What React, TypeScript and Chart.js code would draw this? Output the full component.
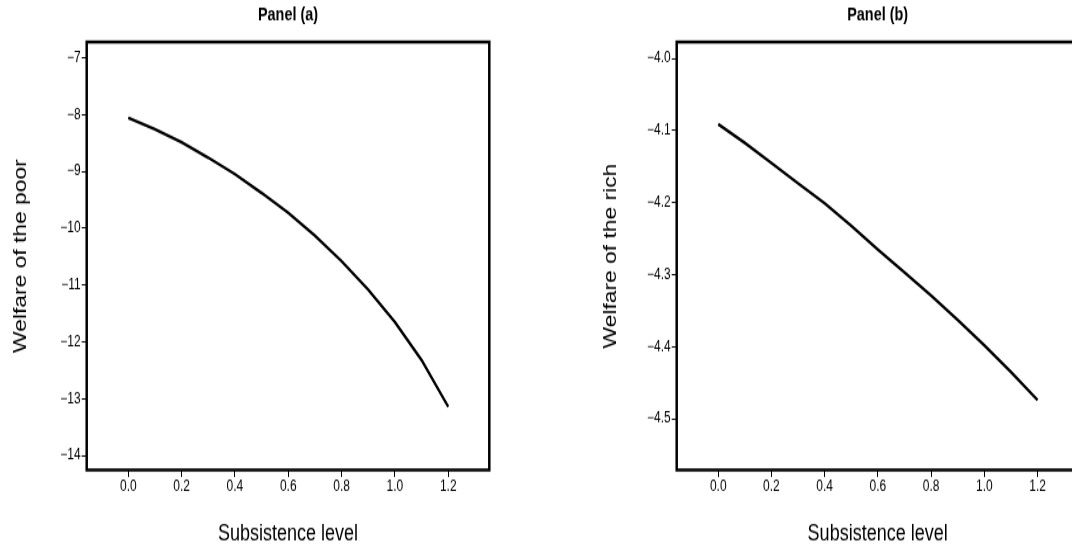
import React, { useEffect, useRef } from "react";
import { Chart, registerables } from "chart.js";

Chart.register(...registerables);

// ---- data ----
const subsistence = [0, 0.1, 0.2, 0.3, 0.4, 0.5, 0.6, 0.7, 0.8, 0.9, 1.0, 1.1, 1.2];
const poorWelfare = [-8.06, -8.26, -8.49, -8.76, -9.05, -9.38, -9.73, -10.13, -10.58, -11.08, -11.65, -12.32, -13.14];
const richWelfare = [-4.091, -4.117, -4.145, -4.173, -4.201, -4.232, -4.265, -4.297, -4.329, -4.363, -4.398, -4.435, -4.474];
const xTicks = [0, 0.2, 0.4, 0.6, 0.8, 1.0, 1.2];
const poorTicks = [-7, -8, -9, -10, -11, -12, -13, -14];
const richTicks = [-4.0, -4.1, -4.2, -4.3, -4.4, -4.5];

const FONT = "'Liberation Sans', Arial, Helvetica, sans-serif";
// the reference figure is stretched vertically; draw at a lower height and stretch with CSS
const DISPLAY_H = 548;
const DRAW_H = 432;

const fmt = (v: number, d: number) =>
  v < 0 ? "\u2212" + Math.abs(v).toFixed(d) : v.toFixed(d);

const boxPlugin = {
  id: "plotBox",
  afterDraw(chart: any) {
    const { ctx, chartArea } = chart;
    ctx.save();
    ctx.strokeStyle = "#000";
    ctx.lineWidth = 2.5;
    ctx.strokeRect(chartArea.left, chartArea.top, chartArea.right - chartArea.left, chartArea.bottom - chartArea.top);
    ctx.restore();
  },
};

type PanelProps = {
  title: string;
  yTitle: string;
  values: number[];
  yTicks: number[];
  yDecimals: number;
  yMin: number;
  yMax: number;
  left: number;
  width: number;
  padRight: number;
  yWidth: number;
  yTitlePad: number;
};

function Panel(p: PanelProps) {
  const ref = useRef<HTMLCanvasElement>(null);
  useEffect(() => {
    if (!ref.current) return;
    const chart = new Chart(ref.current, {
      type: "line",
      data: {
        datasets: [
          {
            data: subsistence.map((x, i) => ({ x, y: p.values[i] })),
            borderColor: "#000",
            borderWidth: 2.4,
            pointRadius: 0,
            tension: 0,
            fill: false,
          },
        ],
      },
      options: {
        animation: false,
        responsive: false,
        maintainAspectRatio: false,
        devicePixelRatio: 1,
        layout: { padding: { left: 0, right: p.padRight, top: 0, bottom: 0 } },
        plugins: {
          legend: { display: false },
          tooltip: { enabled: false },
          title: {
            display: true,
            text: p.title,
            fullSize: false,
            color: "#000",
            font: { family: FONT, size: 14.4, weight: "bold" },
            padding: { top: 3.2, bottom: 12.6 },
          },
        },
        scales: {
          x: {
            type: "linear",
            min: -0.156,
            max: 1.354,
            afterBuildTicks: (s: any) => {
              s.ticks = xTicks.map((v) => ({ value: v }));
            },
            afterFit: (s: any) => {
              s.height = 61.5;
            },
            ticks: {
              color: "#000",
              font: { family: FONT, size: 12 },
              padding: 0.5,
              maxRotation: 0,
              autoSkip: false,
              callback: (v: any) => fmt(Number(v), 1),
            },
            grid: { display: true, drawOnChartArea: false, drawTicks: true, tickLength: 5.5, color: "#000", lineWidth: 1 },
            border: { display: false },
            title: {
              display: true,
              text: "Subsistence level",
              color: "#000",
              font: { family: FONT, size: 18 },
              padding: { top: 0, bottom: 0.5 },
            },
          },
          y: {
            type: "linear",
            min: p.yMin,
            max: p.yMax,
            afterBuildTicks: (s: any) => {
              s.ticks = p.yTicks.map((v) => ({ value: v }));
            },
            afterFit: (s: any) => {
              s.width = p.yWidth;
            },
            ticks: {
              color: "#000",
              font: { family: FONT, size: 12 },
              padding: 1,
              autoSkip: false,
              callback: (v: any) => fmt(Number(v), p.yDecimals),
            },
            grid: { display: true, drawOnChartArea: false, drawTicks: true, tickLength: 5, color: "#000", lineWidth: 1 },
            border: { display: false },
            title: {
              display: true,
              text: p.yTitle,
              color: "#000",
              font: { family: FONT, size: 18 },
              padding: { top: p.yTitlePad, bottom: 0 },
            },
          },
        },
      },
      plugins: [boxPlugin],
    });
    return () => chart.destroy();
  }, []);
  return (
    <canvas
      ref={ref}
      width={p.width}
      height={DRAW_H}
      style={{ position: "absolute", left: p.left, top: 0, width: p.width, height: DISPLAY_H }}
    />
  );
}

export default function App() {
  return (
    <div
      style={{
        position: "fixed",
        left: 0,
        top: 0,
        width: 1072,
        height: 548,
        overflow: "hidden",
        background: "#fff",
      }}
    >
      <Panel
        title="Panel (a)"
        yTitle="Welfare of the poor"
        values={poorWelfare}
        yTicks={poorTicks}
        yDecimals={0}
        yMin={-14.253}
        yMax={-6.725}
        left={0}
        width={540}
        padRight={50.7}
        yWidth={86.7}
        yTitlePad={10}
      />
      <Panel
        title="Panel (b)"
        yTitle="Welfare of the rich"
        values={richWelfare}
        yTicks={richTicks}
        yDecimals={1}
        yMin={-4.571}
        yMax={-3.977}
        left={540}
        width={560}
        padRight={21.4}
        yWidth={136.7}
        yTitlePad={60}
      />
    </div>
  );
}
